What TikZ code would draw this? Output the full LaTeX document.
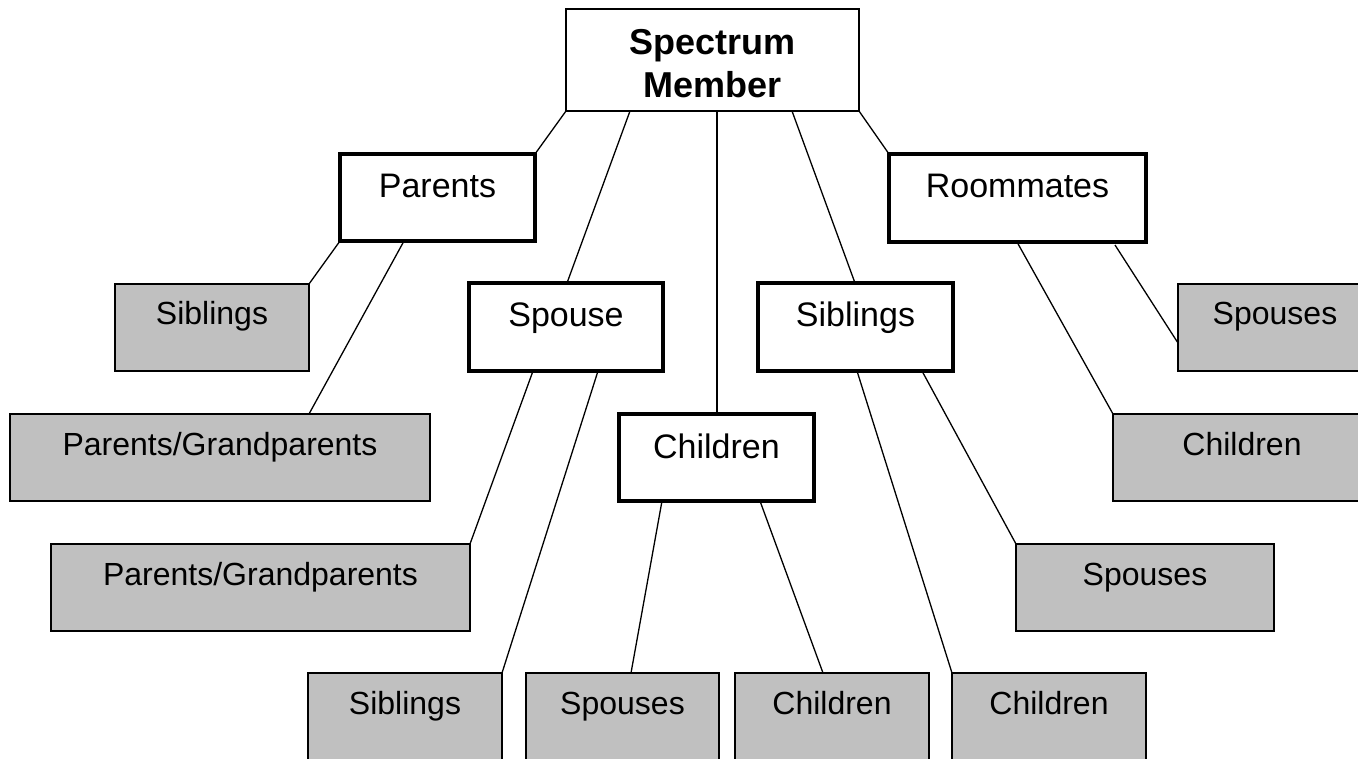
\documentclass[tikz,border=0pt]{standalone}
\usepackage{fontspec}
\setmainfont{Liberation Sans}
\usetikzlibrary{calc}
\definecolor{boxgray}{HTML}{C0C0C0}
\tikzset{
  basebox/.style={rectangle, draw=black, inner sep=0pt, outer sep=0pt, anchor=north west, align=center},
  topbox/.style={basebox, line width=2.2pt, fill=white, font=\bfseries\fontsize{36}{43}\selectfont},
  whitebox/.style={basebox, line width=3.2pt, fill=white, font=\fontsize{34}{40}\selectfont, text height=44pt, text depth=43pt},
  graybox/.style={basebox, line width=2.2pt, fill=boxgray, font=\fontsize{32}{38}\selectfont, text height=41pt, text depth=46pt},
  link/.style={line width=1.3pt},
}
\begin{document}
\begin{tikzpicture}[x=1pt,y=1pt]
\useasboundingbox (0,0) rectangle (1358,-759);
\fill[white] (0,0) rectangle (1358,-759);
\clip (0,0) rectangle (1358,-759);
% nodes
\node[topbox, text width=293pt, text height=46pt, text depth=56pt] (sm) at (566,-9) {Spectrum\\Member};
\node[whitebox, minimum width=195pt] (parents) at (340,-154) {Parents};
\node[whitebox, minimum width=257pt, text depth=44pt] (room) at (889,-154) {Roommates};
\node[whitebox, minimum width=194pt, text depth=44pt] (spouse) at (469,-283) {Spouse};
\node[whitebox, minimum width=195pt, text depth=44pt] (sibw) at (758,-283) {Siblings};
\node[whitebox, minimum width=195pt] (chw) at (619,-414) {Children};
\node[graybox, minimum width=194pt] (sibg) at (115,-284) {Siblings};
\node[graybox, minimum width=420pt] (pg1) at (10,-414) {Parents/Grandparents};
\node[graybox, minimum width=419pt] (pg2) at (51,-544) {Parents/Grandparents};
\node[graybox, minimum width=194pt] (spr) at (1178,-284) {Spouses};
\node[graybox, minimum width=258pt] (chr) at (1113,-414) {Children};
\node[graybox, minimum width=258pt] (spm) at (1016,-544) {Spouses};
\node[graybox, minimum width=194pt] (sibb) at (308,-673) {Siblings};
\node[graybox, minimum width=193pt] (spb) at (526,-673) {Spouses};
\node[graybox, minimum width=194pt] (chb1) at (735,-673) {Children};
\node[graybox, minimum width=194pt] (chb2) at (952,-673) {Children};
% connectors
\draw[link] (sm.south west) -- (parents.north east);
\draw[link] ([xshift=64pt]sm.south west) -- ([xshift=98pt]spouse.north west);
\draw[link] ([xshift=151pt]sm.south west) -- ([xshift=98pt]chw.north west);
\draw[link] ([xshift=226pt]sm.south west) -- ([xshift=97pt]sibw.north west);
\draw[link] (sm.south east) -- (room.north west);
\draw[link] (parents.south west) -- (sibg.north east);
\draw[link] ([xshift=64pt]parents.south west) -- ([xshift=299pt]pg1.north west);
\draw[link] ([xshift=64pt]spouse.south west) -- (pg2.north east);
\draw[link] ([xshift=129pt]spouse.south west) -- (sibb.north east);
\draw[link] ([xshift=43pt]chw.south west) -- ([xshift=105pt]spb.north west);
\draw[link] ([xshift=141pt]chw.south west) -- ([xshift=88pt]chb1.north west);
\draw[link] ([xshift=99pt]sibw.south west) -- (chb2.north west);
\draw[link] ([xshift=164pt]sibw.south west) -- (spm.north west);
\draw[link] ([xshift=128pt]room.south west) -- (chr.north west);
\draw[link] ([xshift=226pt,yshift=-3pt]room.south west) -- ([yshift=-59pt]spr.north west);
\end{tikzpicture}
\end{document}
